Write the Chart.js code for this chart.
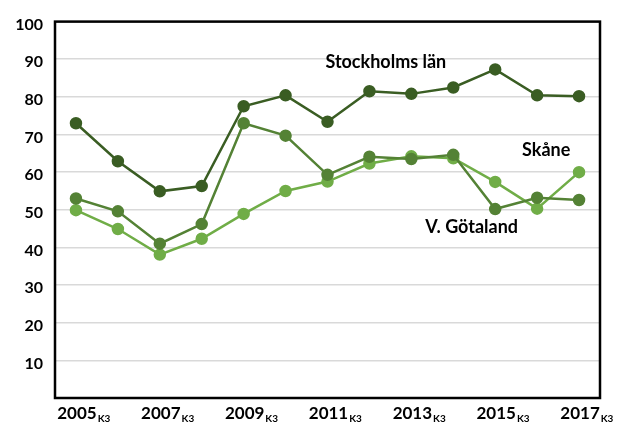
<!DOCTYPE html>
<html>
<head>
<meta charset="utf-8">
<script src="https://cdn.jsdelivr.net/npm/chart.js@4"></script>
<style>
  html, body { margin: 0; padding: 0; background: #fff; }
  #wrap { width: 619px; height: 429px; position: relative; }
</style>
</head>
<body>
<div id="wrap"><canvas id="chart" width="619" height="429"></canvas></div>
<script>
// years on the x axis, every other one gets a label
const years = ["2005", "2006", "2007", "2008", "2009", "2010", "2011", "2012", "2013", "2014", "2015", "2016", "2017"];
const labelYears = ["2005", "2007", "2009", "2011", "2013", "2015", "2017"];
const yTicks = [10, 20, 30, 40, 50, 60, 70, 80, 90, 100];

// values
const stockholm = [73.0, 62.9, 54.9, 56.3, 77.5, 80.4, 73.4, 81.5, 80.8, 82.5, 87.3, 80.4, 80.2];
const vgotaland = [53.0, 49.6, 41.0, 46.2, 73.0, 69.7, 59.3, 64.1, 63.5, 64.6, 50.2, 53.2, 52.6];
const skane = [49.9, 44.9, 38.1, 42.3, 48.9, 55.0, 57.5, 62.3, 64.2, 63.7, 57.4, 50.3, 60.0];

const FONT = "Lato, 'Open Sans', sans-serif";

// text labels placed next to the lines
const seriesLabels = [
  { text: "Stockholms län", year: "2012", value: 89.2, dx: -44 },
  { text: "Skåne", year: "2016", value: 65.8, dx: -15 },
  { text: "V. Götaland", year: "2014", value: 45.3, dx: -28 }
];

function line(label, data, color, order) {
  return {
    label: label,
    data: data,
    borderColor: color,
    backgroundColor: color,
    pointBackgroundColor: color,
    pointBorderColor: color,
    borderWidth: 2.5,
    pointRadius: 5,
    pointHoverRadius: 5,
    tension: 0,
    order: order
  };
}

// frame, x labels with subscript and series names
const decorations = {
  id: "decorations",
  afterDraw(chart) {
    const ctx = chart.ctx;
    const area = chart.chartArea;
    const x = chart.scales.x;
    const y = chart.scales.y;
    ctx.save();

    ctx.strokeStyle = "#000";
    ctx.lineWidth = 2.5;
    ctx.strokeRect(area.left, area.top, area.right - area.left, area.bottom - area.top);

    ctx.fillStyle = "#000";
    ctx.textBaseline = "alphabetic";
    labelYears.forEach(yr => {
      const px = x.getPixelForValue(years.indexOf(yr));
      ctx.font = "bold 17px " + FONT;
      const w = ctx.measureText(yr).width;
      ctx.textAlign = "left";
      ctx.fillText(yr, px - w / 2 + 1, 419);
      ctx.font = "bold 10px " + FONT;
      ctx.fillText("K3", px + w / 2 + 2, 422);
    });

    ctx.font = "bold 18px " + FONT;
    ctx.textAlign = "left";
    ctx.textBaseline = "middle";
    seriesLabels.forEach(l => {
      const px = x.getPixelForValue(years.indexOf(l.year));
      ctx.fillText(l.text, px + l.dx, y.getPixelForValue(l.value));
    });
    ctx.restore();
  }
};

new Chart(document.getElementById("chart"), {
  type: "line",
  data: {
    labels: years,
    datasets: [
      line("Stockholms län", stockholm, "#3a5d23", 1),
      line("V. Götaland", vgotaland, "#548235", 2),
      line("Skåne", skane, "#70ad47", 3)
    ]
  },
  options: {
    responsive: false,
    animation: false,
    layout: { padding: { top: 18, right: 19, left: 0, bottom: 0 } },
    plugins: {
      legend: { display: false },
      tooltip: { enabled: false }
    },
    scales: {
      x: {
        offset: true,
        grid: { display: false },
        border: { display: false },
        ticks: { display: false },
        afterFit(scale) { scale.height = 31; }
      },
      y: {
        min: 0,
        max: 100,
        afterFit(scale) { scale.width = 55; },
        afterBuildTicks(scale) { scale.ticks = yTicks.map(v => ({ value: v })); },
        grid: {
          color: "#d9d9d9",
          lineWidth: 1.5,
          drawTicks: false
        },
        border: { display: false },
        ticks: {
          padding: 12,
          labelOffset: 3,
          color: "#000",
          font: { family: FONT, size: 16, weight: "bold" }
        }
      }
    }
  },
  plugins: [decorations]
});
</script>
</body>
</html>
